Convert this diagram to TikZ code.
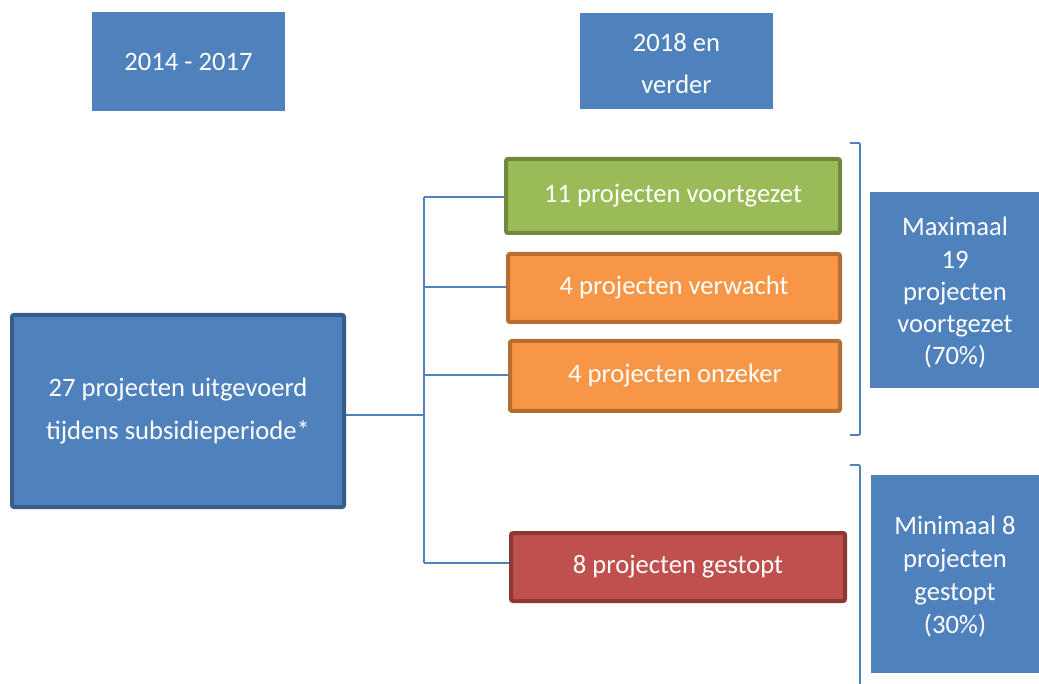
\documentclass[tikz,border=0pt]{standalone}
\usepackage{fontspec}
\setmainfont{Carlito}
\definecolor{myblue}{HTML}{4F81BD}
\definecolor{darkblue}{HTML}{385D8A}
\definecolor{mygreen}{HTML}{9BBB59}
\definecolor{darkgreen}{HTML}{71893F}
\definecolor{myorange}{HTML}{F79646}
\definecolor{darkorange}{HTML}{B66D31}
\definecolor{myred}{HTML}{C0504D}
\definecolor{darkred}{HTML}{8C3836}
\begin{document}
\begin{tikzpicture}[x=1pt,y=-1pt,
  plainbox/.style={fill=myblue, text=white, inner sep=0pt, align=center, rectangle},
  framebox/.style={text=white, inner sep=0pt, align=center, rectangle, line width=4pt, rounded corners=2pt},
  conn/.style={draw=myblue, line width=1.6pt},
  brace/.style={draw=myblue, line width=1.6pt, rounded corners=1pt},
  fs/.style={font=\fontsize{26.6}{#1}\selectfont}
]
\useasboundingbox (0,0) rectangle (1039,684);
% top boxes
\node[plainbox, fs=42, minimum width=193pt, minimum height=99pt] (p1) at (188.5,61.5) {2014 - 2017};
\node[plainbox, fs=42, minimum width=193pt, minimum height=96pt] (p2) at (676.5,61) {};
\node[fs=42, text=white, align=center, inner sep=0pt] (p2t) at (676.5,64) {2018 en\\verder};
% main box
\node[framebox, fs=43, fill=myblue, draw=darkblue, minimum width=332pt, minimum height=192pt] (main) at (178,411) {27 projecten uitgevoerd\\tijdens subsidieperiode*};
% right-side boxes
\node[framebox, fs=32, fill=mygreen, draw=darkgreen, minimum width=334pt, minimum height=74pt] (g) at (673,196) {11 projecten voortgezet};
\node[framebox, fs=32, fill=myorange, draw=darkorange, minimum width=332pt, minimum height=68pt] (o1) at (674,288) {4 projecten verwacht};
\node[framebox, fs=32, fill=myorange, draw=darkorange, minimum width=330pt, minimum height=70pt] (o2) at (675,376) {4 projecten onzeker};
\node[framebox, fs=32, fill=myred, draw=darkred, minimum width=334pt, minimum height=68pt] (r) at (678,567) {8 projecten gestopt};
% summary boxes
\node[plainbox, minimum width=169pt, minimum height=196pt] (s1) at (954.5,290) {};
\node[fs=32.2, text=white, align=center, inner sep=0pt] (s1t) at (955,293) {Maximaal\\19\\projecten\\voortgezet\\(70\%)};
\node[plainbox, minimum width=168pt, minimum height=198pt] (s2) at (955,574) {};
\node[fs=33, text=white, align=center, inner sep=0pt] (s2t) at (955,577) {Minimaal 8\\projecten\\gestopt\\(30\%)};
% connectors
\coordinate (jm) at (424,415);
\coordinate (jg) at (424,197);
\coordinate (jo1) at (424,287);
\coordinate (jo2) at (424,375);
\coordinate (jr) at (424,563);
\draw[conn] (main.east |- jm) -- (jm);
\draw[conn] (jg) -- (jr);
\draw[conn] (jg) -- (jg -| g.west);
\draw[conn] (jo1) -- (jo1 -| o1.west);
\draw[conn] (jo2) -- (jo2 -| o2.west);
\draw[conn] (jr) -- (jr -| r.west);
% brackets
\coordinate (b1a) at (850,143);
\coordinate (b1b) at (850,435);
\coordinate (b2a) at (850,465);
\coordinate (b2b) at (860,684);
\draw[brace] (b1a) -- (860,143) -- (860,435) -- (b1b);
\draw[brace] (b2a) -- (860,465) -- (b2b);
\end{tikzpicture}
\end{document}
